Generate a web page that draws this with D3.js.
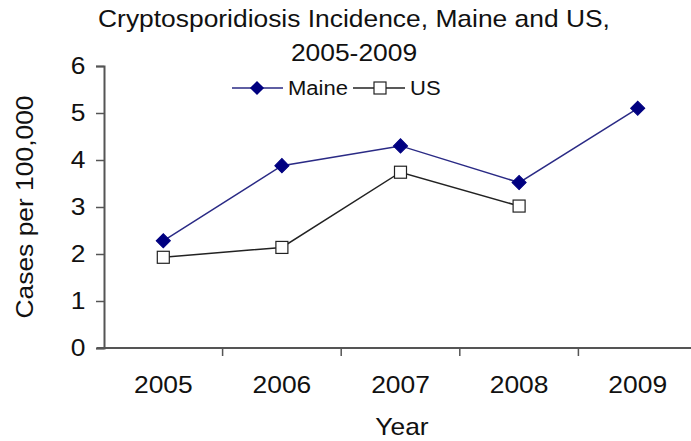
<!DOCTYPE html>
<html>
<head>
<meta charset="utf-8">
<script src="https://cdn.jsdelivr.net/npm/d3@7"></script>
<style>
  body { margin: 0; background: #fff; }
  text { font-family: "Liberation Sans", Arial, sans-serif; fill: #111; }
</style>
</head>
<body>
<div id="chart"></div>
<script>
var years = ["2005", "2006", "2007", "2008", "2009"]
var maine = [2.28, 3.88, 4.3, 3.52, 5.1]
var us = [1.93, 2.14, 3.74, 3.02, null]
var yTicks = [0, 1, 2, 3, 4, 5, 6]

var width = 691, height = 441
var margin = { top: 66, right: -6, bottom: 93, left: 104 }

// text in the original is a bit wider than Arial
var stretch = "scale(1.1,1)"

var svg = d3.select("#chart")
    .append("svg")
    .attr("width", width)
    .attr("height", height)

var g = svg.append("g")
    .attr("transform", "translate(" + margin.left + "," + margin.top + ")")

var w = width - margin.left - margin.right
var h = height - margin.top - margin.bottom

const x = d3.scaleBand()
    .domain(years)
    .range([0, w])

const y = d3.scaleLinear()
    .domain([0, 6])
    .range([h, 0])

// axes
var xAxis = g.append("g")
    .attr("transform", "translate(0," + h + ")")
    .call(d3.axisBottom(x).tickSize(0).tickPadding(28))
xAxis.select(".domain").remove()
xAxis.selectAll("text").style("font-size", "24px").attr("transform", stretch)

g.append("line")
    .attr("x1", -7).attr("x2", w)
    .attr("y1", h).attr("y2", h)
    .attr("stroke", "#555").attr("stroke-width", 2)

// x tick marks between categories
g.selectAll(".xtick")
    .data(years.slice(1))
    .enter().append("line")
    .attr("x1", d => x(d)).attr("x2", d => x(d))
    .attr("y1", h).attr("y2", h + 8)
    .attr("stroke", "#555").attr("stroke-width", 1.5)

var yAxis = g.append("g")
    .call(d3.axisLeft(y).tickValues(yTicks).tickSize(8).tickPadding(9).tickFormat(d3.format("d")))
yAxis.select(".domain").attr("stroke", "#555").attr("stroke-width", 2)
yAxis.selectAll(".tick line").attr("stroke", "#555").attr("stroke-width", 1.5)
yAxis.selectAll("text").style("font-size", "24px").attr("transform", stretch)

// lines
var line = d3.line()
    .defined(d => d[1] != null)
    .x(d => x(d[0]) + x.bandwidth() / 2)
    .y(d => y(d[1]))

var maineData = years.map((d, i) => [d, maine[i]])
var usData = years.map((d, i) => [d, us[i]]).filter(d => d[1] != null)

g.append("path")
    .datum(usData)
    .attr("d", line)
    .attr("fill", "none")
    .attr("stroke", "#222")
    .attr("stroke-width", 1.5)

g.append("path")
    .datum(maineData)
    .attr("d", line)
    .attr("fill", "none")
    .attr("stroke", "#2a2a85")
    .attr("stroke-width", 1.5)

var diamond = d3.symbol().type(d3.symbolSquare).size(100)

g.selectAll(".maine")
    .data(maineData)
    .enter().append("path")
    .attr("d", diamond)
    .attr("transform", d => "translate(" + (x(d[0]) + x.bandwidth() / 2) + "," + y(d[1]) + ") rotate(45)")
    .attr("fill", "#000080")
    .attr("stroke", "#000080")

g.selectAll(".us")
    .data(usData)
    .enter().append("rect")
    .attr("x", d => x(d[0]) + x.bandwidth() / 2 - 6)
    .attr("y", d => y(d[1]) - 6)
    .attr("width", 12)
    .attr("height", 12)
    .attr("fill", "#fff")
    .attr("stroke", "#222")
    .attr("stroke-width", 1.2)

// title
svg.append("text")
    .attr("transform", "translate(354,27) " + stretch)
    .attr("text-anchor", "middle")
    .style("font-size", "24px")
    .text("Cryptosporidiosis Incidence, Maine and US,")
svg.append("text")
    .attr("transform", "translate(354,61) " + stretch)
    .attr("text-anchor", "middle")
    .style("font-size", "24px")
    .text("2005-2009")

// legend
var leg = svg.append("g")
leg.append("line").attr("x1", 232).attr("x2", 283).attr("y1", 88).attr("y2", 88)
    .attr("stroke", "#2a2a85").attr("stroke-width", 1.5)
leg.append("path").attr("d", diamond)
    .attr("transform", "translate(257,88) rotate(45)")
    .attr("fill", "#000080")
leg.append("text").attr("transform", "translate(288,95) scale(1.13,1)")
    .style("font-size", "19.5px").text("Maine")
leg.append("line").attr("x1", 353).attr("x2", 405).attr("y1", 88).attr("y2", 88)
    .attr("stroke", "#222").attr("stroke-width", 1.5)
leg.append("rect").attr("x", 374).attr("y", 82).attr("width", 12).attr("height", 12)
    .attr("fill", "#fff").attr("stroke", "#222").attr("stroke-width", 1.2)
leg.append("text").attr("transform", "translate(410,95) scale(1.13,1)")
    .style("font-size", "19.5px").text("US")

// axis titles
svg.append("text")
    .attr("transform", "translate(33,207) rotate(-90) " + stretch)
    .attr("text-anchor", "middle")
    .style("font-size", "24px")
    .text("Cases per 100,000")
svg.append("text")
    .attr("transform", "translate(402,435) " + stretch)
    .attr("text-anchor", "middle")
    .style("font-size", "24px")
    .text("Year")
</script>
</body>
</html>
